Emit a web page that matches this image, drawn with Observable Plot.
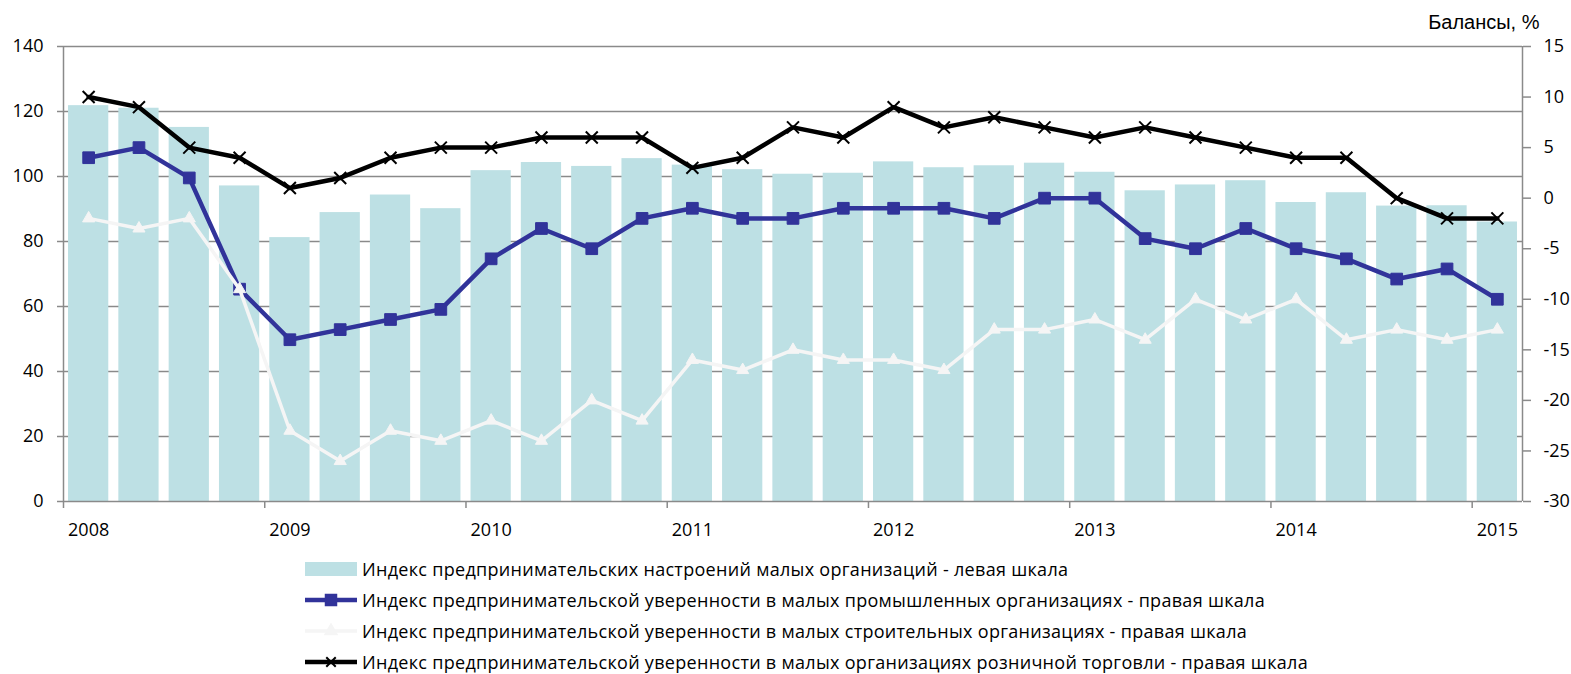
<!DOCTYPE html>
<html>
<head>
<meta charset="utf-8">
<script src="https://cdn.jsdelivr.net/npm/d3@7"></script>
<script src="https://cdn.jsdelivr.net/npm/@observablehq/plot@0.6"></script>
<style>
  html, body { margin: 0; padding: 0; background: #fff; }
  #chart { width: 1571px; }
  #legend { margin-top: 13px; padding-left: 305px; font-family: "Open Sans", sans-serif; font-size: 18px; letter-spacing: 0.3px; color: #000; }
  .row { height: 31px; display: flex; align-items: center; white-space: nowrap; }
  .row svg { flex: none; margin-right: 5px; }
</style>
</head>
<body>
<div id="chart"></div>
<div id="legend"></div>
<script>
// Quarters 2008 Q1 .. 2015 Q1
const periods = ["2008 I","2008 II","2008 III","2008 IV","2009 I","2009 II","2009 III","2009 IV",
  "2010 I","2010 II","2010 III","2010 IV","2011 I","2011 II","2011 III","2011 IV",
  "2012 I","2012 II","2012 III","2012 IV","2013 I","2013 II","2013 III","2013 IV",
  "2014 I","2014 II","2014 III","2014 IV","2015 I"];
const yearLabels = ["2008","2009","2010","2011","2012","2013","2014","2015"];

// Left scale: index of business sentiment of small organisations
const sentiment = [121.8,121.0,115.1,97.1,81.2,88.9,94.3,90.1,101.8,104.3,103.1,105.5,103.5,102.1,100.7,101.0,
  104.5,102.7,103.3,104.1,101.3,95.6,97.4,98.7,92.0,95.0,90.9,91.0,86.0];
// Right scale (balances, %)
const industry = [4,5,2,-9,-14,-13,-12,-11,-6,-3,-5,-2,-1,-2,-2,-1,-1,-1,-2,0,0,-4,-5,-3,-5,-6,-8,-7,-10];
const construction = [-2,-3,-2,-9,-23,-26,-23,-24,-22,-24,-20,-22,-16,-17,-15,-16,-16,-17,-13,-13,-12,-14,-10,-12,-10,-14,-13,-14,-13];
const retail = [10,9,5,4,1,2,4,5,5,6,6,6,3,4,7,6,9,7,8,7,6,7,6,5,4,4,0,-2,-2];

const leftTicks = [0,20,40,60,80,100,120,140];
const rightTicks = [-30,-25,-20,-15,-10,-5,0,5,10,15];

const legendLabels = [
  "Индекс предпринимательских настроений малых организаций - левая шкала",
  "Индекс предпринимательской уверенности в малых промышленных организациях - правая шкала",
  "Индекс предпринимательской уверенности в малых строительных организациях - правая шкала",
  "Индекс предпринимательской уверенности в малых организациях розничной торговли - правая шкала"
];

const colors = {bar: "#bde0e4", industry: "#31339a", construction: "#f5f5f5", retail: "#000000", grid: "#8a8a8a"};

// right scale [-30,15] shares the left y scale [0,140]
const toLeft = r => (r + 30) * 140 / 45;
const fromLeft = v => Math.round(v * 45 / 140 - 30);

const rows = periods.map((p, i) => ({i, p, s: sentiment[i], ind: industry[i], con: construction[i], ret: retail[i]}));
const yearTicks = yearLabels.map((y, k) => k * 4);
const yearLabelPos = yearLabels.map((y, k) => k * 4 + 0.5);

const chart = Plot.plot({
  width: 1571,
  height: 540,
  marginLeft: 63,
  marginRight: 49,
  marginTop: 46,
  marginBottom: 39,
  style: {fontFamily: "Open Sans, sans-serif", fontSize: "18px", color: "#000", background: "#fff"},
  x: {type: "linear", domain: [0, 29], axis: null},
  y: {domain: [0, 140], axis: null},
  marks: [
    Plot.gridY(leftTicks.filter(v => v > 0), {stroke: colors.grid, strokeOpacity: 1, strokeWidth: 1.5}),
    Plot.rectY(rows, {x1: d => d.i + 0.1, x2: d => d.i + 0.9, y1: 0, y2: "s", fill: colors.bar}),
    Plot.ruleX([0, 29], {stroke: colors.grid, strokeWidth: 1.5}),
    Plot.ruleY([0], {stroke: colors.grid, strokeWidth: 1.5}),
    Plot.axisY(leftTicks, {anchor: "left", tickSize: 6, tickPadding: 14, stroke: colors.grid, strokeWidth: 1.5, tickFormat: d => String(d), label: null}),
    Plot.axisY(rightTicks.map(toLeft), {anchor: "right", tickSize: 8, tickPadding: 13, stroke: colors.grid, strokeWidth: 1.5, tickFormat: v => String(fromLeft(v)), label: null}),
    Plot.axisX(yearTicks, {anchor: "bottom", tickSize: 7, stroke: colors.grid, strokeWidth: 1.5, tickFormat: () => "", label: null}),
    Plot.axisX(yearLabelPos, {anchor: "bottom", tickSize: 0, tickPadding: 22, tickFormat: (v, k) => yearLabels[Math.round((v - 0.5) / 4)], label: null}),
    // industry
    Plot.line(rows, {x: d => d.i + 0.5, y: d => toLeft(d.ind), stroke: colors.industry, strokeWidth: 4.5, strokeLinejoin: "round"}),
    Plot.dot(rows, {x: d => d.i + 0.5, y: d => toLeft(d.ind), symbol: "square", r: 6.6, fill: colors.industry, stroke: colors.industry, strokeWidth: 1}),
    // construction
    Plot.line(rows, {x: d => d.i + 0.5, y: d => toLeft(d.con), stroke: colors.construction, strokeWidth: 3.5, strokeLinejoin: "round"}),
    Plot.dot(rows, {x: d => d.i + 0.5, y: d => toLeft(d.con), symbol: "triangle", r: 4.5, fill: colors.construction, stroke: colors.construction, strokeWidth: 1}),
    // retail
    Plot.line(rows, {x: d => d.i + 0.5, y: d => toLeft(d.ret), stroke: colors.retail, strokeWidth: 4.5, strokeLinejoin: "round"}),
    Plot.dot(rows, {x: d => d.i + 0.5, y: d => toLeft(d.ret), symbol: "times", r: 5.5, stroke: colors.retail, strokeWidth: 2}),
    Plot.text(["Балансы, %"], {frameAnchor: "top-right", textAnchor: "end", lineAnchor: "bottom", dx: 17, dy: -18, fontFamily: "Liberation Sans, Arial, sans-serif", fontSize: 20, fill: "#000"})
  ]
});
document.getElementById("chart").appendChild(chart);

// Legend
const legend = d3.select("#legend");
const swatches = [
  {type: "bar", color: colors.bar},
  {type: "line", color: colors.industry, sym: d3.symbolSquare, size: 110, w: 4.5, fill: true},
  {type: "line", color: colors.construction, sym: d3.symbolTriangle, size: 55, w: 3.5, fill: true},
  {type: "line", color: colors.retail, sym: d3.symbolTimes, size: 60, w: 4.5, fill: false}
];
legendLabels.forEach((label, k) => {
  const sw = swatches[k];
  const row = legend.append("div").attr("class", "row");
  const svg = row.append("svg").attr("width", 52).attr("height", 18);
  if (sw.type === "bar") {
    svg.append("rect").attr("x", 0).attr("y", 2).attr("width", 52).attr("height", 14).attr("fill", sw.color);
  } else {
    svg.append("line").attr("x1", 0).attr("x2", 52).attr("y1", 9).attr("y2", 9).attr("stroke", sw.color).attr("stroke-width", sw.w);
    svg.append("path").attr("d", d3.symbol(sw.sym, sw.size)()).attr("transform", "translate(26,9)")
      .attr("fill", sw.fill ? sw.color : "none").attr("stroke", sw.color).attr("stroke-width", 2);
  }
  row.append("span").text(label);
});
</script>
</body>
</html>
